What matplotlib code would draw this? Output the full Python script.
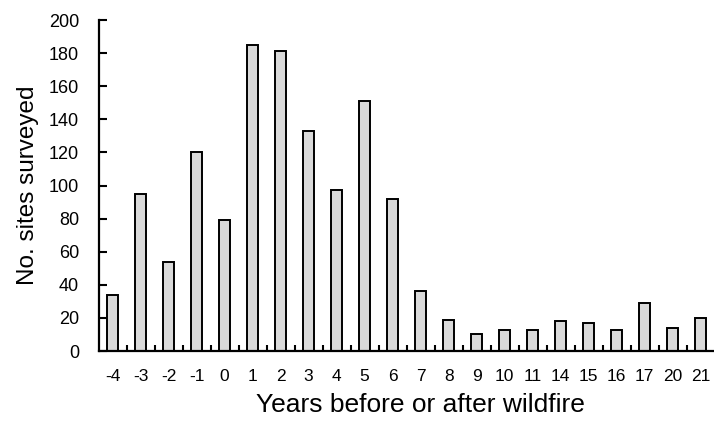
import matplotlib
matplotlib.use('Agg')
import matplotlib.pyplot as plt
import numpy as np

plt.rcParams['font.family'] = ['Liberation Sans', 'DejaVu Sans']

years = ['-4', '-3', '-2', '-1', '0', '1', '2', '3', '4', '5', '6', '7',
         '8', '9', '10', '11', '14', '15', '16', '17', '20', '21']
sites = [34, 95, 54, 120, 79, 185, 181, 133, 97, 151, 92, 36,
         19, 10, 13, 13, 18, 17, 13, 29, 14, 20]

fig = plt.figure(figsize=(7.14, 4.26), dpi=100)
ax = fig.add_axes([0.138, 0.176, 0.863, 0.777])

x = np.arange(len(years))
ax.bar(x, sites, width=0.38, color='#d9d9d9', edgecolor='black', linewidth=1.4)

ax.set_xlim(-0.5, len(years) - 0.5)
ax.set_ylim(0, 200)
ax.set_yticks(range(0, 201, 20))

# labels under each bar, small tick marks between the bars
ax.set_xticks(x)
ax.set_xticklabels(years)
ax.set_xticks(x[:-1] + 0.5, minor=True)
ax.tick_params(axis='x', which='major', length=0, pad=13, labelsize=12.5)
ax.tick_params(axis='x', which='minor', direction='in', length=4, width=1.5)
ax.tick_params(axis='y', direction='in', length=6, width=1.5, labelsize=13, pad=14)

for side in ['top', 'right']:
    ax.spines[side].set_visible(False)
for side in ['left', 'bottom']:
    ax.spines[side].set_linewidth(1.6)

ax.set_ylabel('No. sites surveyed', fontsize=17.5)
ax.set_xlabel('Years before or after wildfire', fontsize=19)
ax.yaxis.set_label_coords(-0.097, 0.5)
ax.xaxis.set_label_coords(0.522, -0.128)

fig.savefig('out.png', dpi=100)
